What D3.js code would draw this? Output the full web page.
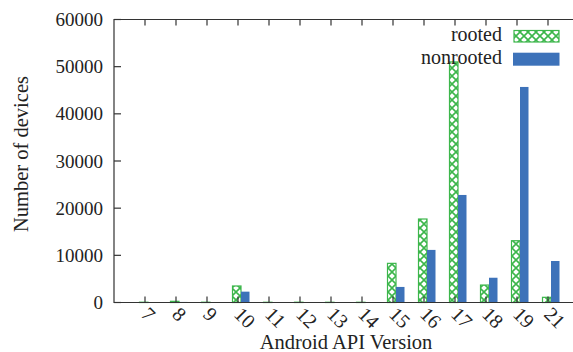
<!DOCTYPE html>
<html>
<head>
<meta charset="utf-8">
<script src="https://cdn.jsdelivr.net/npm/d3@7.9.0/dist/d3.min.js"></script>
<style>
  body { margin: 0; background: #fff; }
  svg { display: block; }
  text { font-family: "Liberation Serif", "Times New Roman", serif; fill: #222; }
</style>
</head>
<body>
<svg id="chart" width="573" height="352"></svg>
<script>
const versions = ['7', '8', '9', '10', '11', '12', '13', '14', '15', '16', '17', '18', '19', '21'];
const rooted = [60, 250, 60, 3500, 50, 60, 50, 50, 8300, 17700, 51000, 3700, 13100, 1100];
const nonrooted = [40, 120, 80, 2300, 60, 90, 60, 40, 3300, 11150, 22800, 5250, 45700, 8800];
const yTicks = [0, 10000, 20000, 30000, 40000, 50000, 60000];

const green = '#3cb64b';
const blue = '#3d72b9';

const svg = d3.select('#chart');
const plotLeft = 114, plotTop = 19.5, plotBottom = 302.5, plotRight = 580;

// one unit per category, range -1..14
const x = d3.scaleLinear().domain([-1, 14]).range([plotLeft, plotLeft + 31 * 15]);
const y = d3.scaleLinear().domain([0, 60000]).range([plotBottom, plotTop]);

// crosshatch pattern for rooted bars
const defs = svg.append('defs');
const pat = defs.append('pattern')
  .attr('id', 'hatch')
  .attr('patternUnits', 'userSpaceOnUse')
  .attr('width', 8).attr('height', 8);
pat.append('rect').attr('width', 8).attr('height', 8).attr('fill', '#fff');
pat.append('path')
  .attr('d', 'M0,0L8,8M8,0L0,8')
  .attr('stroke', green).attr('stroke-width', 1.6);

const barW = 8.5;
const offset = 3; // bars sit a bit right of the tick

// bars
svg.append('g').selectAll('rect')
  .data(versions)
  .join('rect')
  .attr('x', (d, i) => x(i) + offset - barW)
  .attr('y', (d, i) => y(rooted[i]))
  .attr('width', barW)
  .attr('height', (d, i) => plotBottom - y(rooted[i]))
  .attr('fill', 'url(#hatch)')
  .attr('stroke', green).attr('stroke-width', 1.2);

svg.append('g').selectAll('rect')
  .data(versions)
  .join('rect')
  .attr('x', (d, i) => x(i) + offset)
  .attr('y', (d, i) => y(nonrooted[i]))
  .attr('width', barW)
  .attr('height', (d, i) => plotBottom - y(nonrooted[i]))
  .attr('fill', blue);

// frame
const frame = svg.append('g').attr('stroke', '#333').attr('stroke-width', 1.2).attr('fill', 'none');
frame.append('path').attr('d', `M${plotRight},${plotTop}H${plotLeft}V${plotBottom}H${plotRight}`);

// y ticks + labels
yTicks.forEach(t => {
  frame.append('line').attr('x1', plotLeft).attr('x2', plotLeft + 7).attr('y1', y(t)).attr('y2', y(t));
});
svg.append('g').selectAll('text')
  .data(yTicks)
  .join('text')
  .attr('x', plotLeft - 11)
  .attr('y', d => y(d))
  .attr('dy', '0.35em')
  .attr('text-anchor', 'end')
  .attr('font-size', 19)
  .text(d => d);

// x ticks (bottom and mirrored on top)
versions.forEach((v, i) => {
  frame.append('line').attr('x1', x(i)).attr('x2', x(i)).attr('y1', plotBottom).attr('y2', plotBottom - 6);
  frame.append('line').attr('x1', x(i)).attr('x2', x(i)).attr('y1', plotTop).attr('y2', plotTop + 6);
});
svg.append('g').selectAll('text')
  .data(versions)
  .join('text')
  .attr('transform', (d, i) => `translate(${x(i)},${plotBottom + 8}) rotate(45)`)
  .attr('text-anchor', 'start')
  .attr('dy', '0.35em')
  .attr('font-size', 20)
  .text(d => d);

// axis titles
svg.append('text')
  .attr('x', 346).attr('y', 349)
  .attr('text-anchor', 'middle')
  .attr('font-size', 20.5)
  .text('Android API Version');
svg.append('text')
  .attr('transform', 'translate(28,154) rotate(-90)')
  .attr('text-anchor', 'middle')
  .attr('font-size', 20.5)
  .text('Number of devices');

// legend
const legend = svg.append('g');
legend.append('text').attr('x', 502).attr('y', 41).attr('text-anchor', 'end').attr('font-size', 20).text('rooted');
legend.append('rect').attr('x', 514).attr('y', 30.5).attr('width', 45).attr('height', 11.5)
  .attr('fill', 'url(#hatch)').attr('stroke', green).attr('stroke-width', 1.2);
legend.append('text').attr('x', 502).attr('y', 64).attr('text-anchor', 'end').attr('font-size', 20).text('nonrooted');
legend.append('rect').attr('x', 513).attr('y', 52.7).attr('width', 46.5).attr('height', 13)
  .attr('fill', blue);
</script>
</body>
</html>
